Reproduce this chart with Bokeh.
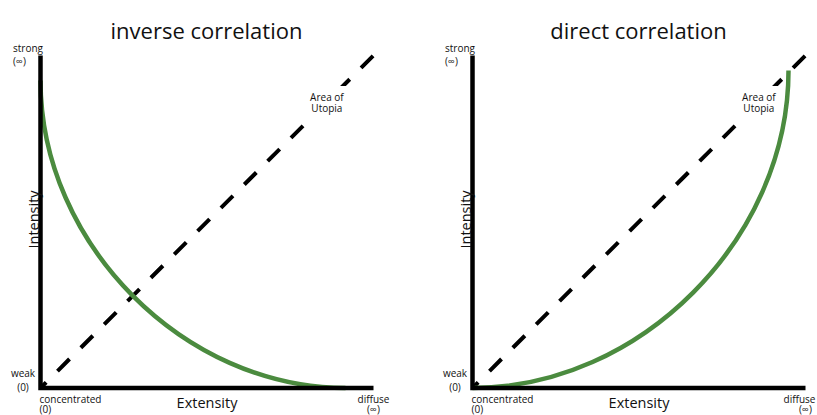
import math
from bokeh.plotting import figure
from bokeh.models import Range1d
from bokeh.layouts import row
from bokeh.core.properties import value
from bokeh.embed import file_html
from bokeh.resources import INLINE

# ---------------- data ----------------
titles = ["inverse correlation", "direct correlation"]
x_axis_label = "Extensity"
y_axis_label = "Intensity"
y_top_labels = ["strong", "(∞)"]
y_bottom_labels = ["weak", "(0)"]
x_left_labels = ["concentrated", "(0)"]
x_right_labels = ["diffuse", "(∞)"]
utopia_labels = ["Area of", "Utopia"]

# axes (normalised 0..1)
axis_x = [0.0, 0.0, 1.0]
axis_y = [1.0, 0.0, 0.0]

# diagonal "Area of Utopia" line
utopia_x = [0.0, 1.0]
utopia_y = [0.0, 1.0]

# curves (start point, end point) of a quarter arc
inverse_start = (0.0, 0.925)
inverse_end = (0.916, 0.0)
direct_start = (0.0, 0.0)
direct_end = (0.949, 0.955)
ARC_K = 0.53  # bezier control factor for a quarter arc

GREEN = "#4b8b3f"
INK = "#111111"
FONT = value("Open Sans")

H = 415
Y0, Y1 = -0.0827, 1.1654
PX_PER_UNIT = 333.0


def txt(p, x, y, t, size, align="left", angle=0.0, **kw):
    kw.setdefault("text_color", INK)
    p.text(x=x, y=y, text=t, text_font=FONT, text_font_size=value(size),
           text_align=align, text_baseline="alphabetic", angle=angle, **kw)


def panel(title, width, x0, start, end, kind, at_right_edge=False):
    p = figure(width=width, height=H,
               x_range=Range1d(x0, x0 + width / PX_PER_UNIT),
               y_range=Range1d(Y0, Y1),
               output_backend="svg", toolbar_location=None, tools="",
               min_border=0, outline_line_color=None,
               x_axis_location=None, y_axis_location=None)
    p.xgrid.visible = False
    p.ygrid.visible = False
    p.background_fill_color = "white"
    p.border_fill_color = "white"

    # dashed diagonal
    p.line(utopia_x, utopia_y, line_color="black", line_width=4,
           line_dash="17 16", line_dash_offset=9, line_cap="butt")

    sx, sy = start
    ex, ey = end
    if kind == "inverse":
        c0 = (sx, sy - ARC_K * (sy - ey))
        c1 = (ex - ARC_K * (ex - sx), ey)
    else:
        c0 = (sx + ARC_K * (ex - sx), sy)
        c1 = (ex, ey - ARC_K * (ey - sy))
    p.bezier(x0=[sx], y0=[sy], x1=[ex], y1=[ey],
             cx0=[c0[0]], cy0=[c0[1]], cx1=[c1[0]], cy1=[c1[1]],
             line_color=GREEN, line_width=4.5)

    # axes
    p.line(axis_x, axis_y, line_color="black", line_width=4.5,
           line_join="miter", line_cap="butt")

    # texts
    txt(p, [0.4985], [1.0752], [title], "22px", "center")
    txt(p, [-0.0826, -0.0826], [1.0226, 0.9835], y_top_labels, "10px", "left")
    txt(p, [-0.0526, -0.0526], [0.0451, 0.0045], y_bottom_labels, "10px", "center")
    txt(p, [-0.003, -0.003], [-0.0331, -0.0617], x_left_labels, "10px", "left")
    if at_right_edge:
        # keep "diffuse" fully inside the page
        txt(p, [1.030], [-0.0331], x_right_labels[:1], "10px", "right")
        txt(p, [1.0], [-0.0617], x_right_labels[1:], "10px", "center")
    else:
        txt(p, [1.0, 1.0], [-0.0331, -0.0617], x_right_labels, "10px", "center")
    ux, uy = [0.86, 0.86], [0.8752, 0.8406]
    # white knock-out behind the "Area of Utopia" label, then the label itself
    txt(p, ux, uy, utopia_labels, "10px", "center", text_alpha=0.0,
        background_fill_color="white", padding=4)
    txt(p, ux, uy, utopia_labels, "10px", "center")
    txt(p, [-0.021], [0.5068], [y_axis_label], "14.5px", "center", math.pi / 2)
    txt(p, [0.5], [-0.0451], [x_axis_label], "14.5px", "center")
    return p


p1 = panel(titles[0], 440, -40 / PX_PER_UNIT, inverse_start, inverse_end, "inverse")
p2 = panel(titles[1], 377, -32 / PX_PER_UNIT, direct_start, direct_end, "direct",
           at_right_edge=True)
layout = row(p1, p2, spacing=0)

open("out.html", "w").write(file_html(layout, INLINE))
